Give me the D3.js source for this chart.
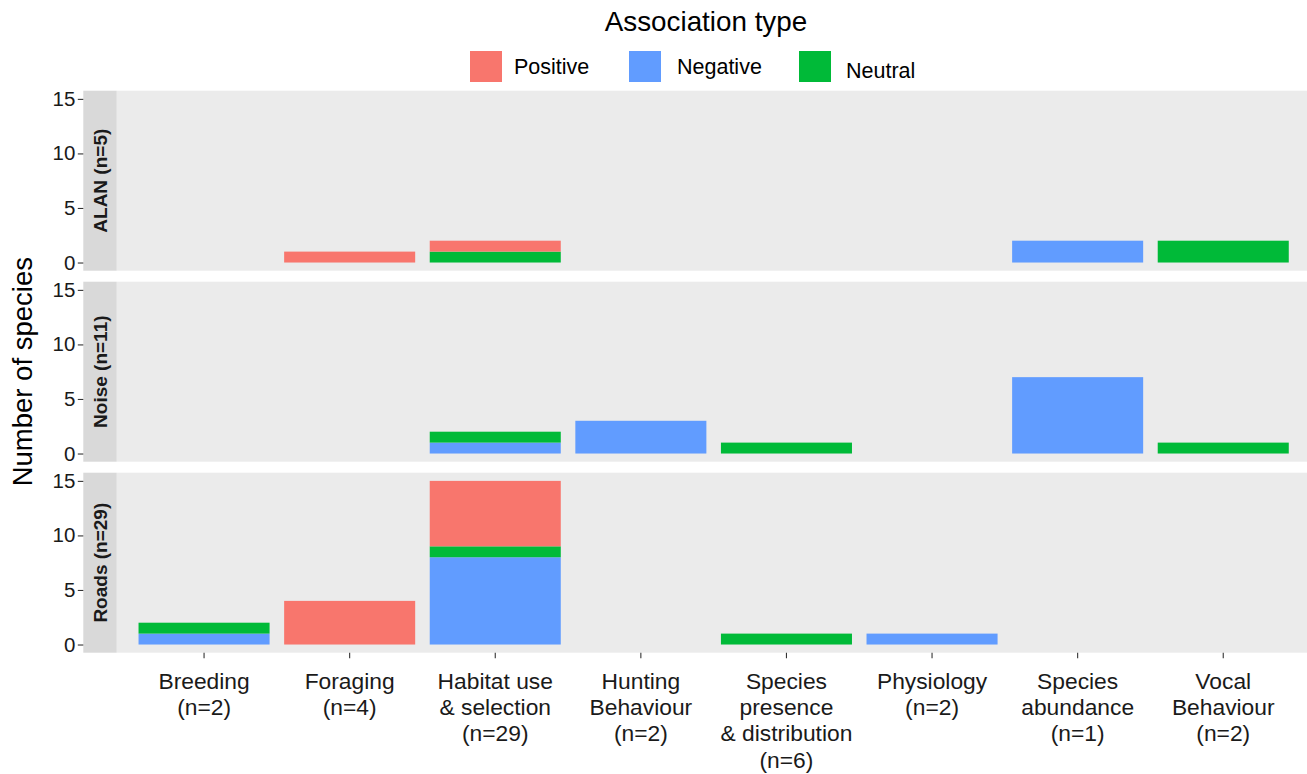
<!DOCTYPE html>
<html>
<head>
<meta charset="utf-8">
<script src="https://cdn.jsdelivr.net/npm/d3@7"></script>
<style>
  html, body { margin: 0; padding: 0; background: #ffffff; }
  svg { display: block; font-family: "Liberation Sans", Arial, Helvetica, sans-serif; }
</style>
</head>
<body>
<svg id="chart" width="1307" height="774"></svg>
<script>
// ---- data ----
const categories = ["Breeding", "Foraging", "Habitat use", "Hunting", "Species presence", "Physiology", "Species abundance", "Vocal"];
const categoryLabels = [
  ["Breeding", "(n=2)"],
  ["Foraging", "(n=4)"],
  ["Habitat use", "& selection", "(n=29)"],
  ["Hunting", "Behaviour", "(n=2)"],
  ["Species", "presence", "& distribution", "(n=6)"],
  ["Physiology", "(n=2)"],
  ["Species", "abundance", "(n=1)"],
  ["Vocal", "Behaviour", "(n=2)"]
];
const facets = ["ALAN", "Noise", "Roads"];
const facetLabels = ["ALAN (n=5)", "Noise (n=11)", "Roads (n=29)"];
const types = ["Positive", "Negative", "Neutral"];
const stackOrder = ["Negative", "Neutral", "Positive"]; // bottom -> top
const colors = ["#F8766D", "#619CFF", "#00BA38"];
const yTicks = [0, 5, 10, 15];

// values per facet, per category
const alanPositive  = [0, 1, 1, 0, 0, 0, 0, 0];
const alanNegative  = [0, 0, 0, 0, 0, 0, 2, 0];
const alanNeutral   = [0, 0, 1, 0, 0, 0, 0, 2];
const noisePositive = [0, 0, 0, 0, 0, 0, 0, 0];
const noiseNegative = [0, 0, 1, 3, 0, 0, 7, 0];
const noiseNeutral  = [0, 0, 1, 0, 1, 0, 0, 1];
const roadsPositive = [0, 4, 6, 0, 0, 0, 0, 0];
const roadsNegative = [1, 0, 8, 0, 0, 1, 0, 0];
const roadsNeutral  = [1, 0, 1, 0, 1, 0, 0, 0];

const facetData = {
  ALAN:  { Positive: alanPositive,  Negative: alanNegative,  Neutral: alanNeutral },
  Noise: { Positive: noisePositive, Negative: noiseNegative, Neutral: noiseNeutral },
  Roads: { Positive: roadsPositive, Negative: roadsNegative, Neutral: roadsNeutral }
};

// ---- layout ----
const svg = d3.select("#chart");
const panelLeft = 116.7, panelRight = 1310.6;
const panelTop0 = 90.7, panelH = 180, panelGap = 11;
const stripW = 33.4;
const textColor = "#1A1A1A";
const color = d3.scaleOrdinal().domain(types).range(colors);

// discrete x with ggplot-like expansion (0.6 units each side, bar width 0.9)
const step = (panelRight - panelLeft) / (categories.length - 1 + 1.2);
const x = d3.scaleBand()
  .domain(categories)
  .range([panelLeft + 0.1 * step, panelRight - 0.1 * step])
  .paddingInner(0.1).paddingOuter(0.05);

facets.forEach((f, fi) => {
  const top = panelTop0 + fi * (panelH + panelGap);
  const y = d3.scaleLinear().domain([-0.75, 15.75]).range([top + panelH, top]);
  const g = svg.append("g");

  g.append("rect").attr("x", panelLeft).attr("y", top)
    .attr("width", panelRight - panelLeft).attr("height", panelH).attr("fill", "#EBEBEB");
  // strip on left
  g.append("rect").attr("x", panelLeft - stripW).attr("y", top)
    .attr("width", stripW).attr("height", panelH).attr("fill", "#D9D9D9");
  g.append("text")
    .attr("transform", `translate(${panelLeft - stripW / 2 + 6.8},${top + panelH / 2}) rotate(-90)`)
    .attr("text-anchor", "middle").attr("font-weight", "bold").attr("font-size", 19)
    .attr("fill", textColor).text(facetLabels[fi]);

  // stacked bars
  const rows = categories.map((c, ci) => {
    const r = { cat: c };
    types.forEach(t => r[t] = facetData[f][t][ci]);
    return r;
  });
  const series = d3.stack().keys(stackOrder)(rows);
  series.forEach(s => {
    g.selectAll(null).data(s.filter(d => d[1] - d[0] > 0)).enter().append("rect")
      .attr("x", d => x(d.data.cat))
      .attr("width", x.bandwidth())
      .attr("y", d => y(d[1]))
      .attr("height", d => y(d[0]) - y(d[1]))
      .attr("fill", color(s.key));
  });

  // y axis
  const yAxis = d3.axisLeft(y).tickValues(yTicks).tickSize(5.5).tickPadding(2.5);
  const ya = g.append("g").attr("transform", `translate(${panelLeft - stripW},0)`).call(yAxis);
  ya.select(".domain").remove();
  ya.selectAll(".tick line").attr("stroke", "#333333").attr("stroke-width", 1.1);
  ya.selectAll(".tick text").attr("font-size", 20.5).attr("fill", textColor)
    .attr("font-family", "Liberation Sans, Arial, sans-serif");

  if (fi === facets.length - 1) {
    const xAxis = d3.axisBottom(x).tickSize(5.5).tickFormat("");
    const xa = g.append("g").attr("transform", `translate(0,${top + panelH})`).call(xAxis);
    xa.select(".domain").remove();
    xa.selectAll(".tick line").attr("stroke", "#333333").attr("stroke-width", 1.1);
    xa.selectAll(".tick").each(function(c, ci) {
      const t = d3.select(this).append("text")
        .attr("text-anchor", "middle").attr("font-size", 22.8).attr("fill", textColor)
        .attr("font-family", "Liberation Sans, Arial, sans-serif");
      categoryLabels[ci].forEach((line, li) => {
        t.append("tspan").attr("x", 0).attr("y", 36 + li * 26.3).text(line);
      });
    });
  }
});

// y axis title
svg.append("text")
  .attr("transform", `translate(32,${panelTop0 + (3 * panelH + 2 * panelGap) / 2}) rotate(-90)`)
  .attr("text-anchor", "middle").attr("font-size", 27.5).attr("fill", "#000").text("Number of species");

// legend
svg.append("text").attr("x", 706).attr("y", 31).attr("text-anchor", "middle")
  .attr("font-size", 27.8).attr("fill", "#000").text("Association type");
const legendKeyX = [470, 629, 799];
const legendTextX = [514, 677, 846];
const legendTextY = [74, 74, 78];
types.forEach((t, i) => {
  svg.append("rect").attr("x", legendKeyX[i]).attr("y", 51).attr("width", 32).attr("height", 31)
    .attr("fill", color(t));
  svg.append("text").attr("x", legendTextX[i]).attr("y", legendTextY[i])
    .attr("font-size", 21.5).attr("fill", "#000").text(t);
});
</script>
</body>
</html>
